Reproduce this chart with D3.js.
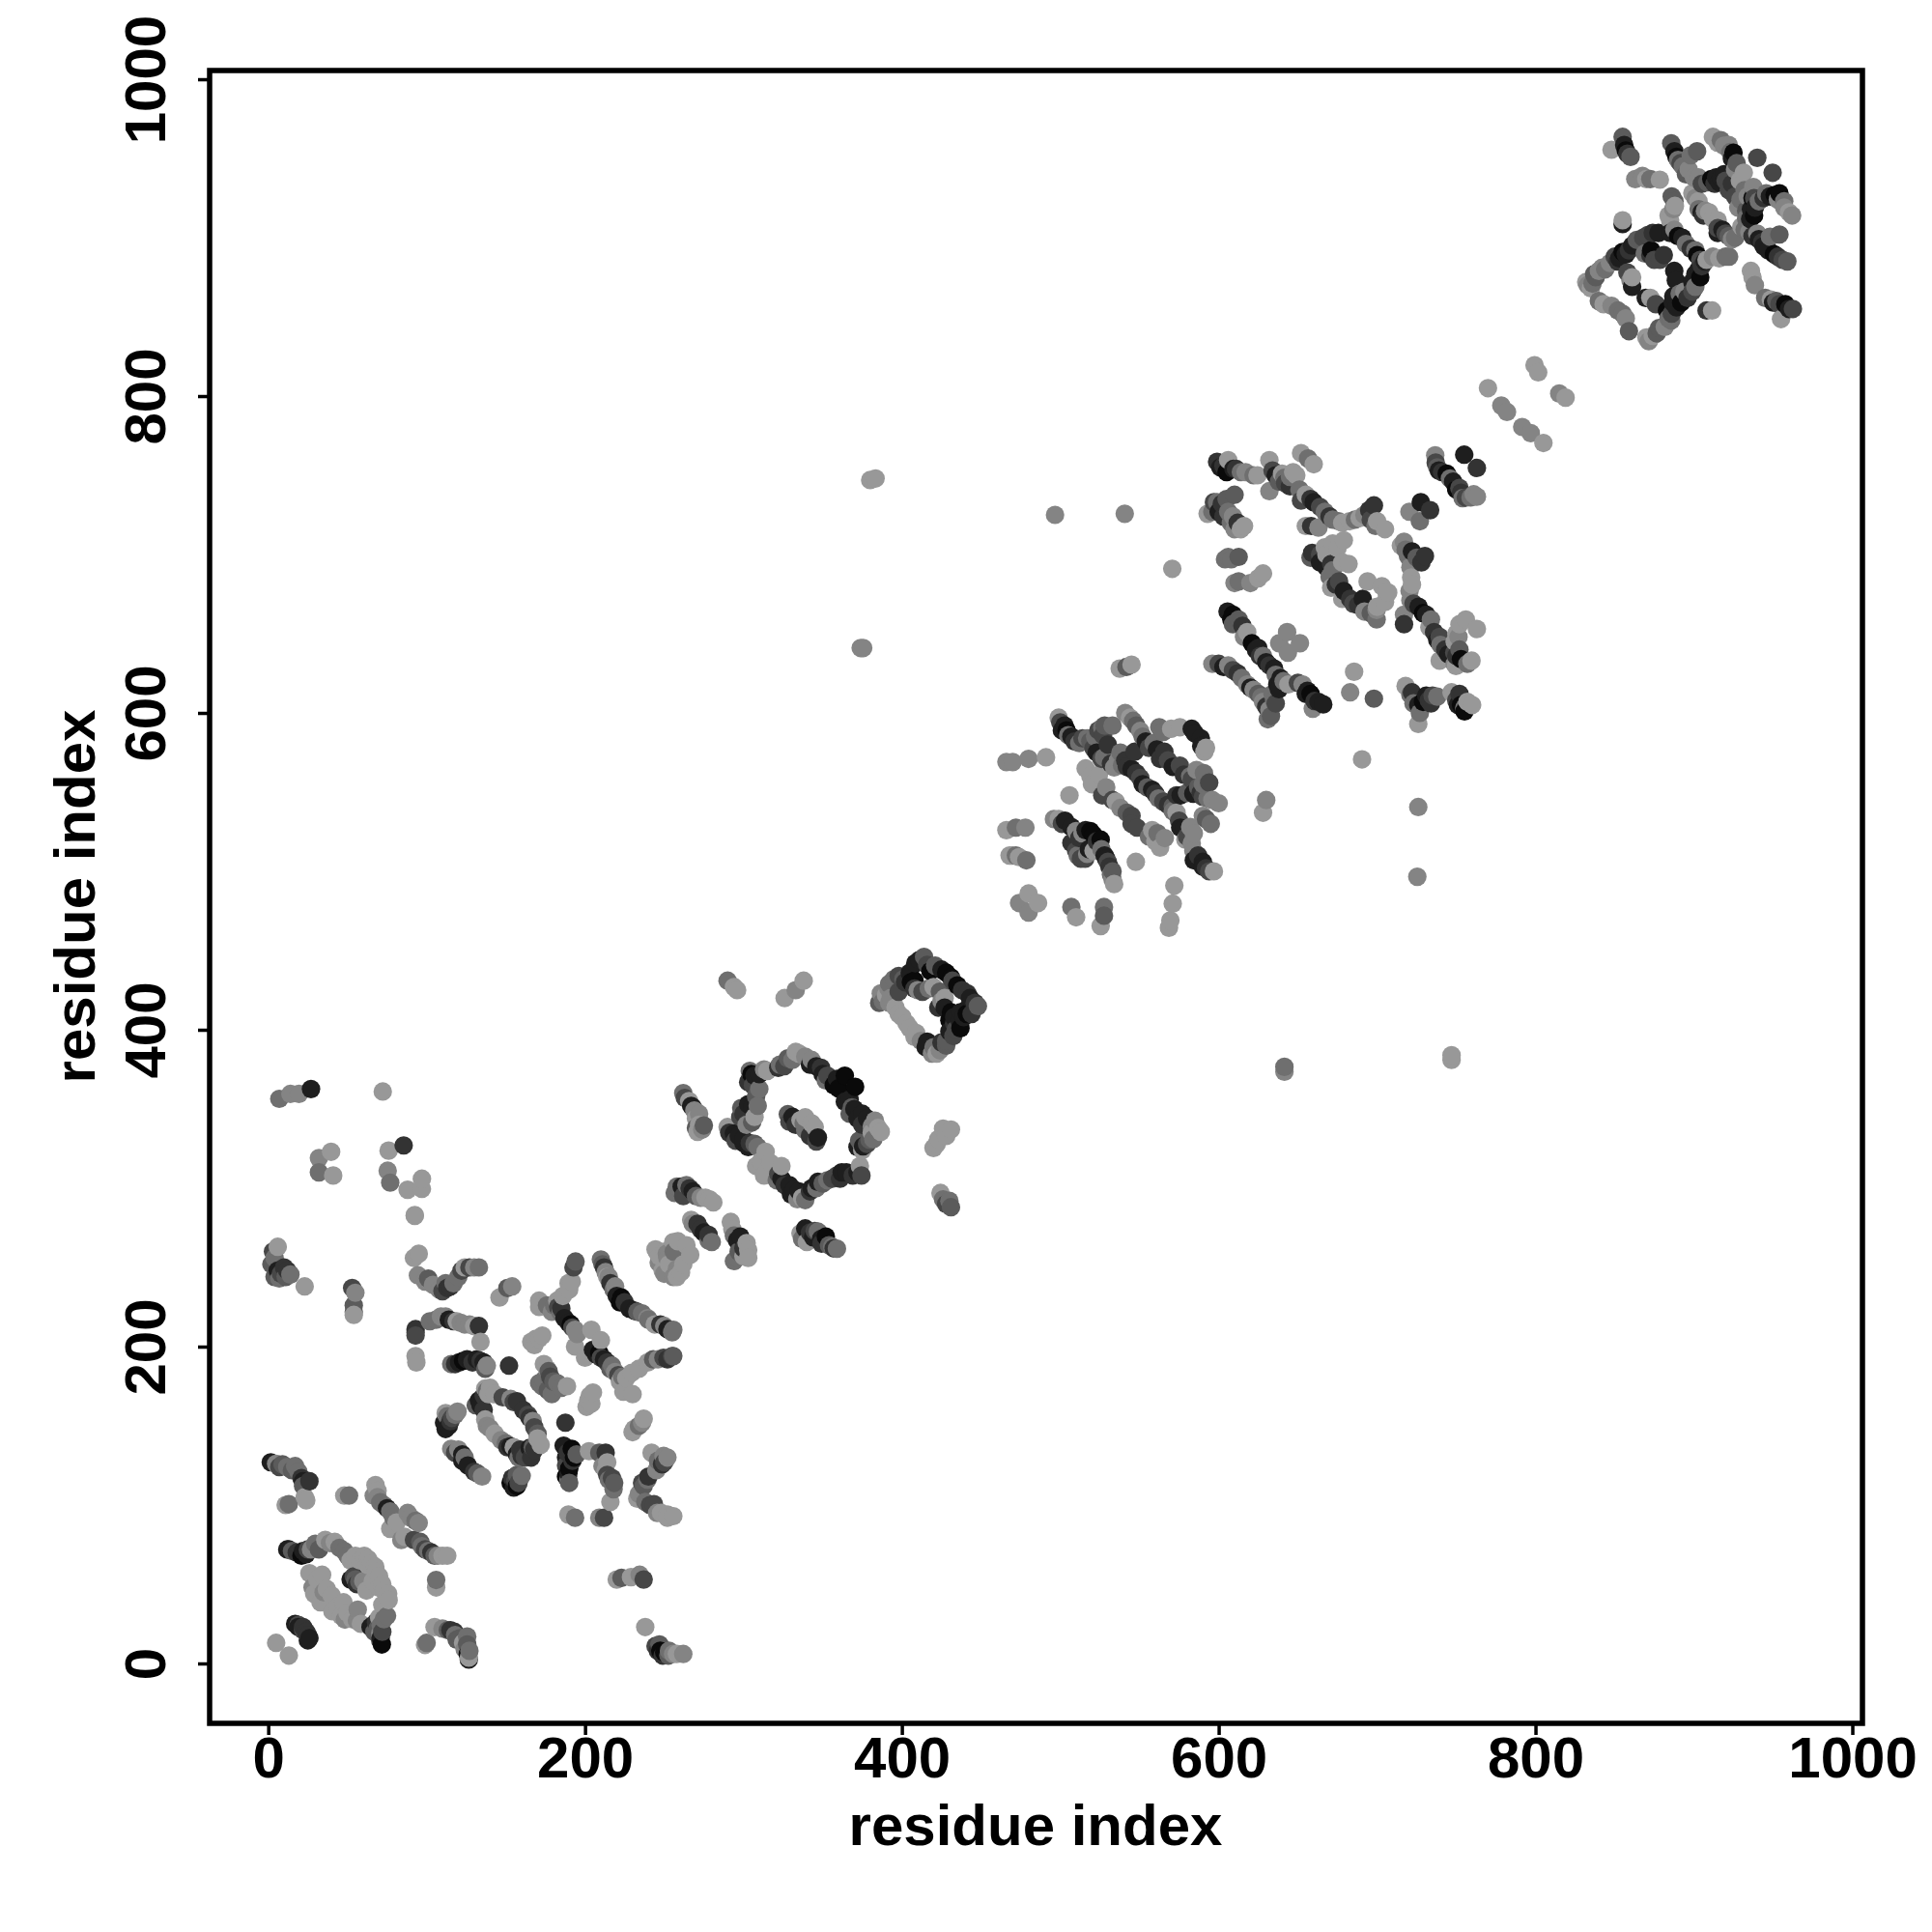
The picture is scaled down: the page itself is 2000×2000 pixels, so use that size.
<!DOCTYPE html>
<html><head><meta charset="utf-8">
<script src="https://cdnjs.cloudflare.com/ajax/libs/d3/7.8.5/d3.min.js"></script>
<style>html,body{margin:0;background:#fff}svg{display:block}</style></head><body>
<svg id="c" width="2000" height="2000"></svg>
<script>
const xTicks=[0,200,400,600,800,1000];
const yTicks=[0,200,400,600,800,1000];
const axisTitle="residue index";
// each contact: [residue i, residue j, shade 0 (dark) .. 7 (light)]
const domainA=[[3,260,3],[6,263,7],[2,252,4],[6,248,1],[10,250,2],[4,244,4],[14,245.5,5],[23,238,7],[53,237,3],[55,234,6],[54,226,4],[54,222,4],[54,220,7],[92.5,282.5,7],[92,256,7],[95,258.6,7],[94.5,245,6],[101,243,4],[104,239,6],[108,236,6],[113,237,2],[117,240,5],[124,250,7],[127,250,3],[133,250,5],[146,231,7],[151,237,4],[154,238,6],[93,209,4],[93,211,2],[102,216,5],[112,219,6],[117,216,2],[121.5,215,6],[127,214,6],[134,203,7],[133,213,2],[93,194,7],[93.5,190,7],[115.5,189,5],[120.5,190,1],[125.5,192,1],[131.7,192,1],[134,191,2],[138,188,6],[152,188,2],[111,152,1],[113,156,5],[115,153,2],[119.5,159,6],[131,163,4],[133,166,1],[136,169,2],[137,173.5,7],[139,170,7],[148,168,3],[153,167,6],[157,165.5,2],[164,157,3],[167,153,6],[137,154,7],[140,148.5,6],[147,141,6],[151,136.5,2],[155,136.5,7],[160,131,2],[164,133,3],[167,136.5,4],[172,138,7],[115.5,135.5,6],[122.5,128,1],[122.5,132,1],[130,121,2],[135,118,6],[153,114,0],[156,115,3],[160,118.5,5],[187.6,152,2],[166,203,7],[171,205,7],[174,189,7],[177,184.5,4],[171,177,5],[176.5,172.5,4],[182.5,177,5],[188.6,175,7],[202,166,7],[205,171,7],[230,146,7],[236,152,6],[237,154.5,7],[186.5,137.5,1],[191.6,135.5,0],[194.7,132,4],[189.5,116,5],[189.5,120,1],[202.5,134,7],[213,133,2],[211,124.5,6],[217,117,3],[218.4,114,4],[216,102,7],[209,92,6],[212,92,3],[189.5,94,7],[193.7,92,5],[220,53,7],[223,54,4],[229,54.5,7],[234.5,56,6],[237,53,3],[238,23,7],[244.5,11,3],[247.5,8,0],[252.6,5,4],[255.6,6,6],[194,253.7,4],[192.7,250,3],[191.6,241,7],[189.6,240,7],[182.5,229,7],[171,229,7],[171,225,7],[180.5,226,5],[184.5,221.5,5],[189.6,215,1],[193.7,210.6,6],[204,210.6,7],[210,204,7],[193.7,200,7],[200,193,7],[207,195,1],[212,192,1],[217,188,5],[223.5,181,5],[229.5,183.5,7],[224.2,171.5,7],[230,170,7],[239.5,190,7],[249.5,193,3],[255.7,194,4],[210,255,5],[212,250,2],[215,244,6],[219,238,6],[223,231,0],[231.3,222.6,1],[239.5,218,6],[247.5,214,2],[255.7,210.6,5],[245.5,259.7,7],[251.6,258.6,6],[255.7,266,7],[249.6,131,6],[248.6,125.7,2],[239.4,116,5],[236,114,3],[234,107,6],[243.5,100.6,3],[245.5,95,6],[255.7,93,7]];
const denseA=[[4,256,5],[8,246,3],[11,244,4],[7,243,5],[12,248,2],[99,241,6],[110,235,3],[112,240,5],[115,238,2],[120,244,5],[122,248,3],[130,250,6],[106,217,5],[109,219,6],[114,217,1],[119,216,7],[124,214,6],[130,213,7],[93,207,3],[118,189,2],[123,191,0],[128,191,1],[129,190,2],[136,190,1],[137,186,4],[138,172,5],[140,174,7],[143,170,7],[134,163,1],[136,160,2],[138,150,6],[143,145,7],[150,139,5],[153,137,1],[157,132,1],[159,135,2],[162,130,3],[161,160,2],[155,165,3],[165,155,2],[168,149,3],[170,145,4],[170,142,7],[158,130,5],[165,136,1],[166,130,2],[168,135,2],[112,158,7],[114,150,1],[112,148,1],[116,155,3],[118,157,5],[118,133,3],[120,135,6],[126,125,1],[132,120,4],[124,130,5],[155,111,1],[157,112,0],[157,119,4],[158,114,3],[154,117,2],[169,205,7],[173,207,7],[168,201,7],[176,186,7],[178,181,3],[173,175,5],[174,179,5],[179,170,5],[185,174,5],[180,178,4],[203,169,7],[204,164,7],[201,162,7],[231,148,7],[234,150,5],[188,130,1],[189,133,2],[193,130,0],[188,125,3],[190,123,0],[192,128,2],[188,118,0],[190,114,4],[209,133,4],[214,127,7],[213,122,7],[214,119,3],[215,116,5],[218,110,5],[190,236,7],[186,232,7],[183,225,3],[185,224,2],[187,218,1],[191,214,0],[192,212,3],[195,208,6],[179,222,6],[176,226,5],[205,198,1],[209,196,0],[210,193,3],[214,190,2],[216,186,4],[219,184,6],[221,182,3],[226,180,7],[222,178,7],[234,186,7],[243,192,4],[246,192,6],[252,192,2],[255,194,3],[211,252,4],[213,247,6],[214,244,7],[216,240,2],[218,236,5],[220,232,1],[222,228,0],[225,228,2],[228,224,1],[233,222,4],[236,221,5],[240,217,5],[244,214,7],[250,213,6],[252,211,1],[255,209,5],[242,133,7],[246,128,5],[250,127,3],[252,130,6],[245,122,6],[240,118,2],[237,112,4],[233,104,7],[238,102,5],[241,100,3],[248,95,7],[252,94,7],[252,92,7],[247,12,4],[246,8,2],[249,5,2],[250,7,0],[253,8,5],[258,6,7],[262,6,6]];
const domainB=[[1.6,127,1],[9,125.7,4],[17,124.6,5],[21,117,2],[23,105,7],[11,100,7],[13,100.6,5],[48,106,7],[51,106,5],[67.7,112.6,7],[66.6,106,6],[70.7,101.7,5],[77,96,5],[88,95,6],[95,88.7,6],[77,85,7],[84,78,6],[96,76.7,4],[101,71,5],[107,68,6],[113,68,7],[106,48,7],[106,52.7,5],[12,72,1],[15,71,4],[24,69,1],[27,72,6],[29.7,75.6,5],[42,76.7,7],[48,71,5],[54,55,3],[57.5,51.6,4],[60.6,68,7],[67.6,61,7],[26,57,7],[34,56,7],[28,48,6],[37,47,7],[33,38.6,7],[40.5,33,7],[47.5,38.6,7],[56.5,34,6],[48.4,27.7,6],[58.5,25,7],[69.6,48,7],[75.7,44,7],[64.6,23,1],[75,30,5],[71.7,12,0],[70.7,14.6,3],[70.7,19,6],[17,25,1],[19,24.4,3],[25,14.6,1],[25,18,2],[5,13,7],[13,5,7],[105,23,7],[113.4,21,4],[117.5,20,2],[125.6,17,5],[125.6,12,4],[126.6,2.5,1],[126.6,3.7,7],[99,11.7,7],[100,13,5]];
const denseB=[[5,126,6],[7,124,3],[12,124,5],[15,122,4],[19,121,5],[22,115,1],[22,112,4],[24,103,7],[26,115,2],[13,72,1],[18,70,2],[21,68,0],[22,71,1],[25,72,3],[28,73,6],[32,72,4],[36,78,7],[39,76,6],[45,73,5],[50,68,5],[52,65,7],[55,68,7],[58,65,7],[63,66,7],[65,63,7],[68,58,7],[72,50,7],[73,46,7],[76,40,7],[72,37,7],[70,29,7],[68,26,2],[66,24,1],[69,22,4],[71,24,5],[73,28,5],[72,20,3],[71,16,1],[67,20,4],[52,53,1],[55,53,4],[56,50,2],[60,52,6],[31,53,7],[29,44,7],[35,45,6],[40,43,7],[44,36,7],[50,32,7],[46,30,7],[53,28,7],[56,27,6],[62,46,7],[66,52,7],[63,62,7],[70,55,7],[69,109,7],[69,105,6],[73,100,5],[75,98,1],[79,92,5],[81,89,7],[90,92,6],[93,90,5],[92,78,3],[97,74,5],[99,72,3],[103,70,2],[105,68,4],[110,68,7],[86,80,7],[19,23,1],[22,21,3],[24,20,2],[26,16,1],[22,23,2],[110,22,6],[115,21,2],[118,18,5],[121,16,4],[123,13,7],[124,9,6],[126,6,0],[127,8,5],[119,15,4]];
const domainC=[[290,431,5],[294,427,7],[296,425,7],[326,420,7],[333,425,6],[338,431,7],[336,271.5,7],[339,274.6,1],[347,272.6,5],[352,269.5,0],[349.3,265,2],[356,263,5],[359,261.8,5],[426,337.6,7],[423,331,7],[420,325.4,7],[430,292,5],[424.4,297,7],[262,360,5],[265.7,355,7],[268,351,1],[272,347,6],[271,335.6,7],[275,339.6,4],[256.6,297,5],[264,302,5],[268,298,1],[273,294,6],[278.6,293,7],[268,277.6,6],[271,277.6,2],[278,267,5],[278,270.5,2],[292,278.7,7],[298,269.5,1],[302,265.4,7],[296,256,5],[300,257,7],[244.5,261.4,7],[250.5,260,7],[258.6,266.5,7],[266.4,258,7],[246.5,253,6],[255.7,244,6],[260.6,247,7],[335,385,7],[330.9,381,5],[325.8,377,3],[343,381,6],[346,377,1],[353,371,3],[357,365,0],[364,371,0],[370.5,364,0],[364,354.6,1],[368.5,351,4],[375,347,1],[383,342.6,6],[379.6,330.5,4],[375.5,326.4,1],[386.7,335.6,7],[373.5,314,7],[365,310,1],[374.5,308,3],[359,308,3],[353,305,5],[346,300,5],[347,304,1],[335,298,1],[339,292.5,5],[329,302,1],[324,306,1],[324,314,7],[313,308,7],[308,314,7],[300,328.5,1],[304,328.5,2],[314,323,7],[294,334.6,1],[290,338.6,7],[298.6,350.6,4],[305.5,351,1],[305.5,341.6,4],[310,362.7,5],[304,374,5],[307,371,1],[315,374,7],[328,346.7,4],[331,345,1],[339,336.6,5],[339,344.7,7],[345,338.6,7],[346,329.5,3],[395,432,5],[405,436,1],[405.7,430,0],[414,446,4],[408.5,442,1],[421,440.5,4],[428,436,0],[435,428,0],[441.3,423,2],[436.5,406,1],[430,406,0],[432.5,396,3],[448,415,4],[439,408,1],[444,410,2],[423,414,2],[424,387,6],[419,385,6],[422,385,7],[415,389,1],[416,392.5,1],[428,390,4],[409,398,7],[408,395.5,7],[398,410,7],[400.3,408,7],[392,417,6],[386.7,423,6],[385.7,417,4],[391.5,426,6],[413,424,3],[420,427,7],[427,420,7]];
const denseC=[[322,376,2],[323,378,5],[328,382,4],[333,386,7],[339,383,6],[342,378,1],[349,376,2],[350,372,1],[352,368,5],[359,369,1],[360,363,0],[367,356,1],[367,347,4],[370,350,1],[372,344,1],[375,340,2],[378,344,1],[381,339,6],[385,338,7],[373,330,4],[378,328,3],[375,324,7],[381,335,7],[372,326,1],[382,331,5],[372,310,1],[369,308,2],[362,310,1],[361,306,2],[356,306,3],[350,303,4],[343,300,1],[342,298,2],[337,294,7],[334,293,6],[332,299,1],[330,296,1],[326,302,2],[322,309,3],[321,305,5],[317,316,7],[311,317,7],[297,333,1],[300,331,1],[303,326,1],[295,330,3],[291,335,2],[307,328,4],[309,326,5],[298,345,3],[300,347,2],[303,353,1],[307,345,7],[302,340,6],[306,365,3],[308,358,4],[309,352,5],[303,367,2],[305,372,0],[310,372,1],[313,375,6],[329,342,3],[333,340,2],[336,343,7],[338,341,5],[342,333,2],[343,341,7],[347,332,1],[263,357,3],[267,352,1],[269,349,6],[270,344,7],[272,340,7],[274,337,6],[270,338,4],[258,301,5],[261,301,1],[266,300,2],[270,295,4],[276,294,7],[262,295,3],[281,291,7],[267,280,7],[273,274,2],[275,272,1],[280,266,5],[293,274,7],[294,270,5],[296,267,1],[300,262,2],[297,260,4],[303,261,7],[294,254,5],[303,256,7],[247,257,7],[252,256,6],[249,248,7],[253,252,7],[256,260,5],[258,249,6],[262,252,7],[258,244,7],[250,246,6],[264,264,7],[337,268,5],[342,272,2],[344,269,1],[345,273,3],[349,268,1],[354,264,4],[357,262,2],[340,266,7],[422,328,7],[428,333,7],[431,337,7],[426,293,5],[428,290,3],[431,288,4],[411,444,1],[416,441,3],[418,437,0],[425,438,1],[431,433,0],[432,431,3],[438,425,2],[443,420,1],[446,417,2],[441,413,1],[441,410,0],[437,411,1],[433,404,2],[434,400,3],[430,399,1],[428,393,4],[425,392,2],[420,389,5],[412,393,6],[405,401,7],[403,404,7],[396,414,7],[393,420,6],[388,418,5],[390,422,7],[392,429,5],[398,434,3],[401,432,4],[402,430,2],[408,431,0],[408,426,2],[410,425,6],[417,426,5],[424,424,4],[427,414,1],[425,418,6],[431,411,0],[433,408,1],[437,401,0],[398,424,3]];
const domainD=[[466,569,6],[470,569,6],[480,571,6],[491,572,7],[499,597,7],[502.7,592,1],[507,585,1],[517,584,5],[526.5,590.7,5],[533,592,5],[521,577.7,3],[527.6,572,5],[536.4,570,6],[545,564.6,1],[550.5,559,3],[558,551.5,1],[565,544,3],[573.4,548,2],[580,549.5,4],[588.6,549.5,2],[593,546,5],[600,543,6],[541,600,6],[546,595,5],[550.5,588.6,6],[562.5,591,5],[575.5,591,7],[583,590,1],[588.7,584,1],[591,575.5,7],[559,581,5],[565.7,575.5,2],[575.5,566.7,3],[590.7,562,5],[582,560,5],[547,575.5,2],[519,560,7],[524.4,561,7],[534,565.6,6],[505.8,548,7],[526.5,548,3],[535,544,7],[545,535,3],[548.5,527.6,3],[561.4,524,5],[560,519,7],[573.4,537,7],[592,533,4],[575.7,527.6,1],[584.3,524,6],[583,517.7,6],[584.3,507,1],[590,506,1],[594,500,3],[597,500,7],[496,533,6],[503,532,1],[510,525.4,6],[519,525.4,0],[525.5,520,0],[510,513,3],[515.7,508,3],[517,511,6],[529,508,1],[533,495,6],[533,500,4],[466,526,7],[472,527.6,5],[478,527.6,6],[469.7,510,7],[474,509,7],[478.6,507,5],[547.7,506,7],[480,486,7],[474,480,6],[486,480,7],[480,474,6],[507,477.5,5],[510,471,7],[527.6,477.5,5],[527.6,472,4],[525.5,465.5,7],[572,491,7],[571,479.6,7],[569.5,469,7],[568.6,464.4,7],[537.5,628,7],[541.8,629,4],[545,630.5,7],[628,537,7],[630,545,6],[690.5,570.7,7],[726,540.6,6],[725.4,496.6,6],[496.7,725,6],[540.7,725.7,6],[570.7,691,7]];
const denseD=[[500,594,3],[501,589,1],[504,589,0],[505,586,5],[509,582,2],[512,581,5],[514,584,3],[519,582,4],[522,585,5],[524,589,3],[528,592,4],[523,575,1],[526,571,3],[530,573,5],[532,568,2],[539,567,5],[542,566,2],[548,562,2],[552,555,1],[555,553,4],[560,549,2],[562,546,5],[568,542,2],[571,541,4],[576,548,1],[584,549,1],[590,547,3],[596,545,6],[544,597,7],[548,592,4],[552,585,5],[554,582,1],[556,578,3],[561,577,1],[563,571,2],[568,570,3],[571,566,1],[578,561,2],[583,558,3],[587,553,4],[590,555,5],[586,564,6],[594,556,3],[527,586,3],[530,580,2],[538,575,5],[541,570,2],[516,565,7],[520,555,7],[529,553,6],[585,587,1],[589,579,1],[592,578,7],[565,588,5],[570,590,7],[533,545,3],[538,540,6],[542,537,4],[545,530,3],[556,522,5],[558,526,7],[563,515,7],[566,521,6],[571,538,5],[575,532,3],[578,527,1],[580,522,3],[584,513,6],[587,510,2],[590,503,1],[592,502,2],[579,520,7],[582,528,6],[595,530,5],[590,535,6],[499,533,7],[501,530,3],[507,528,1],[512,521,2],[514,524,6],[516,526,1],[521,523,0],[523,519,2],[513,508,3],[518,514,1],[521,513,7],[526,514,5],[528,510,1],[530,506,3],[531,503,2],[532,498,5],[534,492,7],[507,518,2],[511,510,5],[468,510,7],[472,510,5]];
const domainE=[[599,758.5,2],[606,759.6,7],[609.3,754,1],[614,752,5],[624.5,750,7],[632,759.6,7],[634,753,3],[652,764,7],[656.4,760.6,5],[660,757,7],[647,752,7],[641.5,748.5,5],[632,740,6],[645,743,2],[655,737.7,7],[664,730,3],[675.7,721,5],[682.7,721,7],[689,723,7],[698,731,2],[699,718,5],[705,716,7],[655,718,7],[658.4,718,2],[663,717,6],[593,725.7,7],[599,733,5],[610,737.7,4],[603,724,2],[607.7,720,5],[616,718,7],[606,698.5,5],[612.6,698.5,4],[612.6,683,5],[625,685,7],[658,698,4],[667,704.5,7],[679,709,7],[671,694,2],[682,694,7],[671,679,7],[676,683,3],[678,672,7],[691,672,1],[694,683,7],[699.7,659,5],[699.7,665,6],[705,670,7],[707,676,7],[715,705.7,7],[719.5,699,5],[730.2,699,2],[721.5,685.5,7],[720.5,677,6],[726.2,667,1],[734,659,5],[739.5,648,3],[717,662,6],[717,656,2],[756,659,7],[763,653,7],[751.4,648,6],[739.5,633,7],[748.7,638,3],[759.6,633,7],[749.8,629.6,7],[755.2,601,0],[752,612,2],[760,605,7],[736.7,762.6,6],[738,755,4],[744,751,0],[752,742,3],[754,735.6,5],[763,736.5,6],[755,763,1],[763,754.6,2],[727.6,733,1],[733.5,728,2],[720.4,727,6],[727,721,5],[605.6,664,1],[608,659,0],[612.6,659,4],[618,651,7],[623.6,639.7,1],[628,636,5],[635,628,1],[641,620,5],[653,618,6],[656,614,1],[660.5,607.5,2],[659.4,602.7,6],[666,605.4,1],[596,631,6],[606,630,6],[614.6,622,5],[622,614.6,6],[628,607,6],[631,596,5],[635,608,5],[638,615,1],[643.2,651,6],[638.2,644,6],[651.3,644,6],[643.7,638,6],[685.5,626,7],[683,613,6],[698,609,4],[718,617,7],[721,611.6,5],[726,593,7],[726,605,1],[732.6,608,2],[738,610.3,5],[770,805,7],[778.4,794,6],[782,790,6],[791.6,780.5,6],[797,776.6,6],[805,770.4,7],[799.4,819.5,7],[801.7,815,7],[815,801.6,6],[819,799,7],[380,747,7],[383.4,748,7],[374,641,6],[375.6,641,6],[641.5,373.5,6],[641.5,376.6,5],[747,381,7],[747,384,7]];
const denseE=[[601,755,1],[603,756,2],[605,752,0],[611,754,2],[617,752,6],[622,750,5],[636,750,1],[638,746,4],[642,745,3],[640,751,7],[645,749,5],[649,750,7],[651,741,5],[652,734,3],[658,735,2],[660,733,1],[667,727,5],[670,724,2],[672,722,5],[678,720,7],[686,722,5],[692,725,6],[695,728,2],[696,722,3],[700,721,7],[597,733,3],[602,732,2],[605,735,4],[596,727,5],[600,727,1],[606,727,5],[609,724,6],[612,720,2],[610,716,6],[614,716,7],[604,697,5],[608,697,5],[610,682,6],[620,682,6],[628,688,7],[659,701,2],[664,700,3],[664,695,1],[668,692,1],[672,690,5],[670,686,5],[674,681,2],[679,677,1],[683,672,2],[685,669,3],[688,668,2],[692,664,6],[696,663,4],[700,667,7],[703,680,7],[706,676,7],[675,704,7],[672,707,7],[668,700,7],[678,695,7],[717,708,6],[718,703,5],[722,702,1],[725,698,4],[728,695,2],[721,692,6],[722,681,7],[721,671,6],[723,669,3],[729,663,0],[731,662,1],[733,654,7],[736,651,2],[738,646,1],[740,643,5],[743,640,2],[745,637,1],[750,636,2],[753,634,0],[757,631,5],[749,645,7],[750,650,7],[752,656,7],[752,640,4],[749,631,6],[750,608,3],[751,605,1],[753,605,0],[755,603,5],[757,607,7],[747,613,7],[737,758,3],[739,753,1],[741,752,2],[746,748,5],[748,746,1],[750,741,0],[753,739,2],[756,736,3],[759,736,5],[761,738,6],[609,662,0],[609,656,4],[615,655,2],[616,648,6],[621,644,0],[625,641,1],[626,636,2],[630,632,1],[632,630,2],[636,624,5],[639,622,1],[644,618,7],[650,619,3],[655,612,1],[658,612,0],[663,607,1],[600,631,3],[603,629,1],[609,627,3],[612,625,2],[618,618,6],[620,616,1],[625,612,4],[627,610,5],[630,604,2],[632,602,6],[634,612,5],[636,606,3],[633,598,4],[637,618,1],[722,613,2],[723,606,5],[727,600,5],[729,607,0],[731,611,1],[735,611,3],[734,606,2]];
const domainF=[[848,955.5,7],[855,963.6,4],[856,958.5,1],[860,951,4],[867.5,939,6],[872.5,937,5],[878.5,936.6,7],[885.7,959.6,4],[887.7,954.5,1],[891.6,947,3],[902,954.5,4],[896.7,943,6],[902.9,938,6],[908.5,935,4],[912,963.6,7],[917,961.5,5],[922,958.5,6],[925,953.6,0],[927,947,4],[931.5,941,7],[914,938,1],[919,940,1],[922,930,3],[929.4,924,5],[937.5,932,6],[940,950.4,3],[949.7,941,3],[945.6,928,5],[951,927,0],[957,923,5],[962,914,6],[938.5,919,1],[935.5,911.7,1],[887.7,923,4],[887,918,6],[885,911,7],[899,928,7],[902.9,923,7],[904.9,916,1],[909.6,916,7],[915,903,1],[915,911,7],[920,902.6,3],[926,900,5],[935,903.6,6],[940,902.6,6],[948,900.6,5],[954,902,4],[944,894.6,1],[950.5,889.6,0],[959,885,4],[855,908.6,1],[855,911,7],[877.6,903,1],[870.9,901.6,3],[864,898.6,4],[857,889.4,1],[852,885,2],[847,884,6],[842,881,6],[837,877,4],[833,870,6],[887.7,905,6],[892.7,900,1],[900.9,892,5],[906.9,885,1],[916,887,7],[922.2,888,5],[878.5,886,3],[872.5,889,2],[861,869,1],[861,875,7],[840,860,5],[848,857,6],[857,849,6],[859,841,4],[869.6,862,1],[872.5,862,7],[876,858,3],[887.6,879,1],[888.6,873,1],[886.7,859,1],[891,864.6,5],[900.9,877,1],[900.9,869,5],[885.7,847.7,5],[881.6,843.6,6],[876.5,839.6,4],[871.5,834.6,6],[908,854,2],[911.5,854,7],[936,879,7],[938.5,870,6],[948.6,860.9,7],[952,860,4],[957.7,858,0],[955,848.6,7],[962.5,855,3]];
const denseF=[[857,955,0],[858,953,2],[863,937,6],[870,937,7],[889,951,0],[890,949,5],[893,945,5],[895,940,4],[898,952,5],[900,938,6],[905,934,3],[911,937,0],[917,938,1],[913,934,2],[916,935,1],[920,936,3],[924,934,2],[915,960,7],[919,958,6],[923,954,5],[924,950,1],[926,943,6],[929,936,7],[932,930,5],[934,926,6],[938,925,3],[941,923,5],[944,925,2],[948,926,1],[953,924,6],[957,919,6],[960,916,7],[954,928,0],[937,925,0],[936,918,1],[933,917,4],[933,912,5],[938,914,0],[928,919,6],[926,926,3],[886,926,4],[888,920,7],[884,914,7],[901,925,6],[903,918,5],[906,914,2],[907,917,6],[912,912,7],[915,906,3],[918,905,1],[922,901,4],[924,899,6],[930,907,7],[932,905,5],[937,901,2],[941,899,1],[943,897,2],[947,892,1],[953,888,2],[956,886,3],[874,903,2],[868,900,3],[861,895,1],[859,892,2],[855,891,0],[853,887,1],[850,888,3],[844,880,5],[840,879,6],[838,875,4],[836,871,5],[835,868,7],[832,872,7],[885,903,1],[890,901,0],[895,896,5],[898,893,2],[902,889,0],[904,886,3],[905,882,2],[908,886,7],[912,888,6],[920,888,5],[881,889,2],[875,886,3],[873,892,0],[869,890,5],[858,878,3],[860,873,6],[843,858,7],[852,854,5],[855,852,5],[903,880,1],[904,875,0],[899,872,1],[899,866,3],[896,862,2],[892,859,0],[889,856,1],[886,852,3],[884,849,5],[878,843,4],[874,838,7],[870,837,7],[883,854,0],[887,863,1],[894,866,6],[937,875,7],[945,862,5],[950,859,1],[954,858,3],[960,855,1]];
const domainG=[[7,356.4,5],[14,359.5,6],[19.4,359.5,6],[27,362.6,1],[72.3,361,7],[85.5,327,2],[76,323.7,7],[32,319,6],[39.7,323,7],[32,310,5],[41,308,7],[75.4,311,6],[77,303.5,5],[97,299.6,7],[97,306,7],[88,299,7],[92.5,283,7]];
const contacts=[domainG,domainA,denseA,domainB,denseB,domainC,denseC,domainD,denseD,domainE,denseE,domainF,denseF].flat().sort((a,b)=>d3.ascending(a[0],b[0]));

const svg=d3.select("#c");
const x=d3.scaleLinear().domain([-37,1006.4]).range([217,1928]);
const y=d3.scaleLinear().domain([-37.8,1005.5]).range([1784,73]);
const shade=d3.scaleLinear().domain([0,7]).range(["#0a0a0a","#989898"]);
const font='"Liberation Sans",Arial,sans-serif';

svg.append("g").selectAll("circle").data(contacts).join("circle")
  .attr("cx",d=>x(d[0])).attr("cy",d=>y(d[1])).attr("r",9.6).attr("fill",d=>shade(d[2]));

svg.append("rect").attr("x",217).attr("y",73).attr("width",1711).attr("height",1711)
  .attr("fill","none").attr("stroke","#000").attr("stroke-width",5.5);

const gx=svg.append("g").attr("transform","translate(0,1784)").call(d3.axisBottom(x).tickValues(xTicks).tickSize(12).tickPadding(8).tickFormat(d3.format("d")));
const gy=svg.append("g").attr("transform","translate(217,0)").call(d3.axisLeft(y).tickValues(yTicks).tickSize(12).tickFormat(d3.format("d")));
[gx,gy].forEach(g=>{g.select(".domain").remove();g.selectAll("line").attr("stroke","#000").attr("stroke-width",3.5);});
gx.selectAll("text").attr("font-family",font).attr("font-weight","bold").attr("font-size",60).attr("fill","#000").attr("dy",null).attr("y",56);
gy.selectAll("text").each(function(d){
  d3.select(this).attr("font-family",font).attr("font-weight","bold").attr("font-size",60).attr("fill","#000")
   .attr("x",null).attr("dy",null).attr("text-anchor","middle").attr("transform",`translate(-46,0) rotate(-90)`);
});
svg.append("text").text(axisTitle).attr("x",1072).attr("y",1910).attr("text-anchor","middle").attr("font-family",font).attr("font-weight","bold").attr("font-size",60);
svg.append("text").text(axisTitle).attr("transform","translate(98,928) rotate(-90)").attr("text-anchor","middle").attr("font-family",font).attr("font-weight","bold").attr("font-size",60);
</script></body></html>
